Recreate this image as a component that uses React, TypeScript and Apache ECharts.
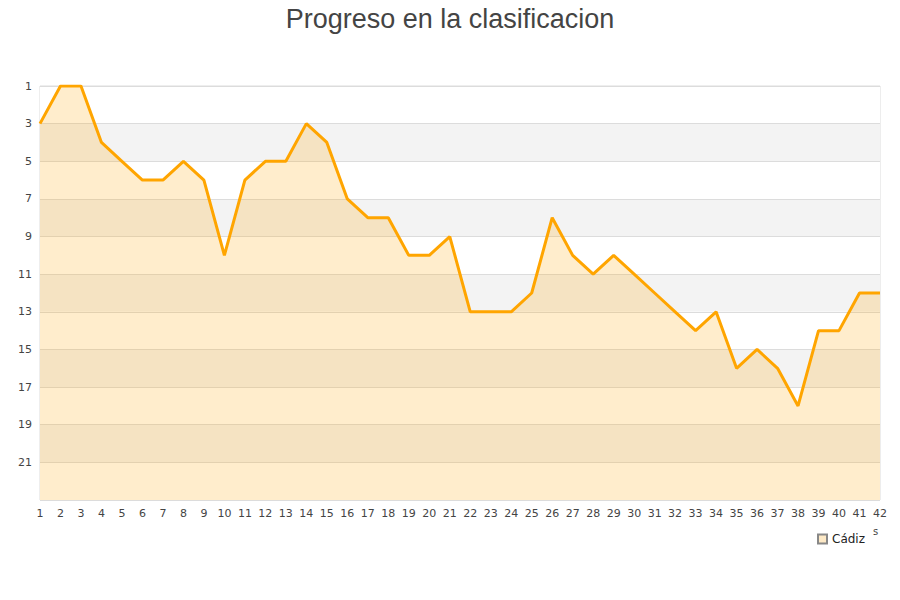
import { useEffect, useRef } from 'react'

import * as echarts from 'echarts'

// jornadas 1..42
const jornadas = Array.from({ length: 42 }, (_, i) => String(i + 1))

// posicion del Cádiz en cada jornada
const posiciones = [
  3, 1, 1, 4, 5, 6, 6, 5, 6, 10,
  6, 5, 5, 3, 4, 7, 8, 8, 10, 10,
  9, 13, 13, 13, 12, 8, 10, 11, 10, 11,
  12, 13, 14, 13, 16, 15, 16, 18, 14, 14,
  12, 12,
]

const equipo = 'Cádiz'

// the value axis starts at position 1; shift by one so the ticks land on 1, 3, 5...
const OFFSET = 1

const App = () => {
  const main = useRef(null)
  useEffect(() => {
    const option = {
      animation: false,
      title: {
        text: 'Progreso en la clasificacion',
        left: 'center',
        top: 0,
        textStyle: {
          fontFamily: 'Liberation Sans',
          fontSize: 27,
          fontWeight: 'normal',
          color: '#444',
        },
      },
      legend: {
        data: [equipo],
        left: 812,
        top: 528,
        icon: 'rect',
        itemWidth: 9,
        itemHeight: 9,
        itemGap: 6,
        textStyle: { fontFamily: 'DejaVu Sans', fontSize: 12, color: '#222' },
      },
      grid: {
        left: 40,
        right: 20,
        top: 86,
        bottom: 100,
        containLabel: false,
        outerBoundsMode: 'none',
        show: true,
        borderColor: '#dcdcdc',
        borderWidth: 1,
      },
      xAxis: {
        type: 'category',
        boundaryGap: false,
        data: jornadas,
        axisLine: { show: false },
        axisTick: { show: false },
        axisLabel: {
          interval: 0,
          margin: 8,
          fontFamily: 'DejaVu Sans',
          fontSize: 11,
          color: '#444',
        },
        splitLine: { show: false },
      },
      yAxis: {
        type: 'value',
        inverse: true,
        min: 0,
        max: 22,
        interval: 2,
        name: 'Posicion',
        nameLocation: 'middle',
        nameGap: 26,
        nameTextStyle: { fontFamily: 'DejaVu Sans', fontSize: 10, color: '#444' },
        axisLine: { show: false },
        axisTick: { show: false },
        axisLabel: {
          margin: 8,
          fontFamily: 'DejaVu Sans',
          fontSize: 11,
          color: '#444',
          formatter: (v: number) => (v >= 22 ? '' : String(v + OFFSET)),
        },
        splitLine: { show: true, lineStyle: { color: '#dcdcdc', width: 1 } },
        splitArea: {
          show: true,
          areaStyle: { color: ['#ffffff', '#f3f3f3'] },
        },
      },
      graphic: [
        {
          type: 'text',
          left: 873,
          top: 526,
          style: { text: 's', fontFamily: 'DejaVu Sans', fontSize: 10, fill: '#444' },
        },
      ],
      series: [
        {
          name: equipo,
          type: 'line',
          data: posiciones.map((p) => p - OFFSET),
          showSymbol: false,
          symbol: 'none',
          lineStyle: { color: '#ffa500', width: 3 },
          itemStyle: { color: '#fde9c6', borderColor: '#888', borderWidth: 1 },
          areaStyle: { color: '#ffa500', opacity: 0.2, origin: 'end' },
        },
      ],
    }
    const myCharts = echarts.init(main.current, null, { renderer: 'svg' })
    myCharts.setOption(option)
    return () => {
      myCharts.dispose()
    }
  }, [])
  return (
    <>
      <div ref={main} style={{ width: '900px', height: '600px', margin: '-8px' }}></div>
    </>
  )
}

export default App
